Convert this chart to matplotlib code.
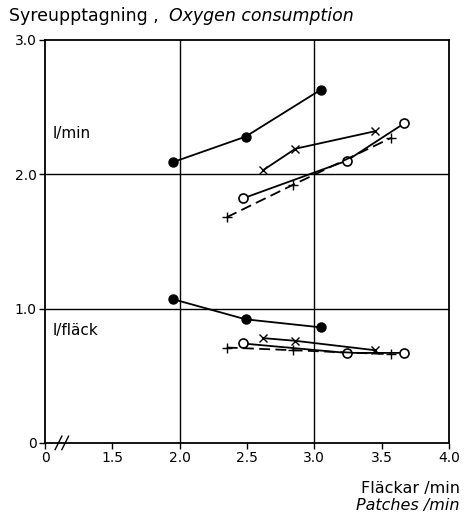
import matplotlib.pyplot as plt

# x values in Fläckar/min, y in litres
fill_x = [1.95, 2.49, 3.05]
fill_min = [2.09, 2.28, 2.63]
fill_fl = [1.07, 0.92, 0.86]

cross_x = [2.62, 2.86, 3.45]
cross_min = [2.03, 2.19, 2.32]
cross_fl = [0.78, 0.76, 0.69]

open_x = [2.47, 3.24, 3.67]
open_min = [1.82, 2.10, 2.38]
open_fl = [0.74, 0.67, 0.67]

plus_x = [2.35, 2.84, 3.57]
plus_min = [1.68, 1.92, 2.27]
plus_fl = [0.71, 0.69, 0.66]

x_ticks = [0, 1.5, 2.0, 2.5, 3.0, 3.5, 4.0]
x_labels = ["0", "1.5", "2.0", "2.5", "3.0", "3.5", "4.0"]
y_ticks = [0, 1.0, 2.0, 3.0]
y_labels = ["0", "1.0", "2.0", "3.0"]


def pos(x):
    # broken axis: 0 .. 1.5 takes the same room as one 0.5 step
    if x == 0:
        return 0.0
    return 1 + (x - 1.5) / 0.5


def pos_list(xs):
    return [pos(v) for v in xs]


fig = plt.figure(figsize=(4.69, 5.12), dpi=100)
ax = fig.add_axes([0.096, 0.135, 0.861, 0.787])

lw = 1.3
for ys in (fill_min, fill_fl):
    ax.plot(pos_list(fill_x), ys, color="black", lw=lw, marker="o",
            markersize=6.5, markerfacecolor="black")
for ys in (cross_min, cross_fl):
    ax.plot(pos_list(cross_x), ys, color="black", lw=lw, marker="x",
            markersize=5.5, markeredgewidth=1.0)
for ys in (open_min, open_fl):
    ax.plot(pos_list(open_x), ys, color="black", lw=lw, marker="o",
            markersize=6.5, markerfacecolor="white", markeredgewidth=1.2)
for ys in (plus_min, plus_fl):
    ax.plot(pos_list(plus_x), ys, color="black", lw=lw, ls=(0, (6, 3)),
            marker="+", markersize=7, markeredgewidth=1.0)

ax.set_xlim(0, 6)
ax.set_ylim(0, 3)
ax.set_xticks(pos_list(x_ticks))
ax.set_xticklabels(x_labels, fontsize=10)
ax.set_yticks(y_ticks)
ax.set_yticklabels(y_labels, fontsize=10)
ax.tick_params(direction="out", length=4, width=1, pad=2)

for gx in (2, 4):
    ax.axvline(gx, color="black", lw=1.0, zorder=0)
for gy in (1.0, 2.0):
    ax.axhline(gy, color="black", lw=1.0, zorder=0)
for s in ax.spines.values():
    s.set_linewidth(1.3)

# axis break marks
for bx in (0.2, 0.3):
    ax.plot([bx - 0.05, bx + 0.05], [-0.05, 0.05], color="black", lw=1.0,
            clip_on=False)

ax.text(0.12, 2.27, "l/min", fontsize=11)
ax.text(0.12, 0.8, "l/fläck", fontsize=11)

fig.text(0.02, 0.968, "Syreupptagning ,", fontsize=12.5, va="center")
fig.text(0.36, 0.968, "Oxygen consumption", fontsize=12.5, va="center",
         style="italic")
fig.text(0.98, 0.045, "Fläckar /min", fontsize=11.5, ha="right", va="center")
fig.text(0.98, 0.012, "Patches /min", fontsize=11.5, ha="right", va="center",
         style="italic")

fig.savefig("out.png", dpi=100)
